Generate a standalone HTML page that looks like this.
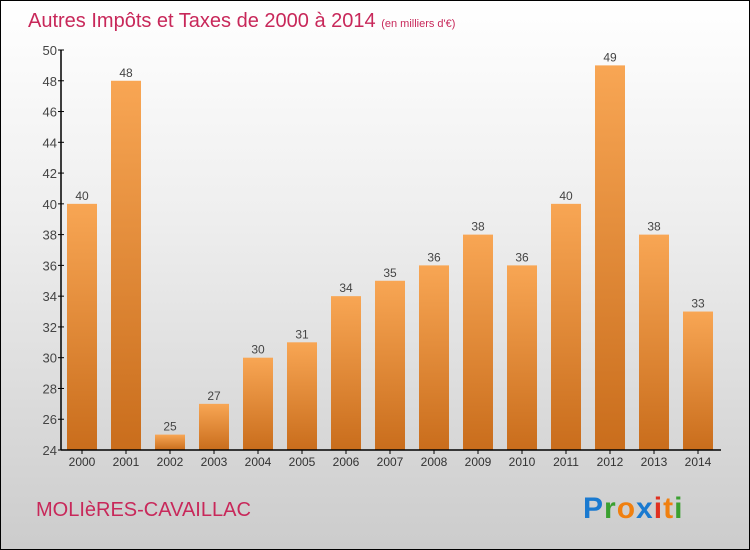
<!DOCTYPE html>
<html><head><meta charset="utf-8"><style>
html,body{margin:0;padding:0}
body{width:750px;height:550px;overflow:hidden;font-family:"Liberation Sans",sans-serif}
#wrap{position:absolute;left:0;top:0;width:748px;height:548px;border:1px solid #000;background:linear-gradient(#ffffff 0%,#eeeeee 40%,#cccccc 100%)}
</style></head><body>
<div id="wrap">
<svg id="chart" width="750" height="550" style="position:absolute;left:-1px;top:-1px">
<defs>
<linearGradient id="bg" x1="0" y1="0" x2="0" y2="1"><stop offset="0" stop-color="#f8a654"/><stop offset="1" stop-color="#c96d1c"/></linearGradient>
</defs>
<text x="28" y="27" font-size="20" fill="#c8285a">Autres Impôts et Taxes de 2000 à 2014 <tspan font-size="11">(en milliers d'€)</tspan></text>
<text x="36" y="516" font-size="20" fill="#c8285a">MOLIèRES-CAVAILLAC</text>
<text x="583" y="518" font-size="30" font-weight="bold" letter-spacing="1"><tspan fill="#1a7ad0">P</tspan><tspan fill="#3aa030">r</tspan><tspan fill="#f08010">o</tspan><tspan fill="#1a7ad0">x</tspan><tspan fill="#e03020">i</tspan><tspan fill="#f08010">t</tspan><tspan fill="#3aa030">i</tspan></text>
<g id="marks"></g>
</svg>
</div>
<script>
const years=["2000","2001","2002","2003","2004","2005","2006","2007","2008","2009","2010","2011","2012","2013","2014"];
const values=[40,48,25,27,30,31,34,35,36,38,36,40,49,38,33];
const yTicks=[24,26,28,30,32,34,36,38,40,42,44,46,48,50];
const NS="http://www.w3.org/2000/svg";
const g=document.getElementById('marks');
const yMin=24,yMax=50,yTop=50,yBot=450,xL=61,xR=721;
const y=v=>yBot-(v-yMin)/(yMax-yMin)*(yBot-yTop);
const step=44,x=i=>82+i*step,bw=30;
function mk(t,a){const e=document.createElementNS(NS,t);for(const k in a)e.setAttribute(k,a[k]);g.appendChild(e);return e;}
values.forEach((v,i)=>{
 const r=mk('rect',{x:x(i)-bw/2,y:y(v),width:bw,height:yBot-y(v),fill:'url(#bg)'});
 
 
 const t=mk('text',{x:x(i),y:y(v)-4,'font-size':12,'text-anchor':'middle',fill:'#444'});t.textContent=v;
 
 
 const xl=mk('text',{x:x(i),y:466,'font-size':12,'text-anchor':'middle',fill:'#333'});xl.textContent=years[i];
 
 
 mk('line',{x1:x(i),x2:x(i),y1:yBot,y2:yBot+4,stroke:'#000'});
});
yTicks.forEach(v=>{
 mk('line',{x1:xL-3,x2:xL+3,y1:y(v),y2:y(v),stroke:'#000'});
 const t=mk('text',{x:xL-4,y:y(v)+5,'font-size':13,'text-anchor':'end',fill:'#444'});t.textContent=v;
 
 
});
const ya=mk('line',{x1:xL,x2:xL,y1:yTop,y2:yBot,stroke:'#000','stroke-width':1.5});


const xa=mk('line',{x1:xL,x2:xR,y1:yBot,y2:yBot,stroke:'#000','stroke-width':1.5});


</script>
</body></html>
